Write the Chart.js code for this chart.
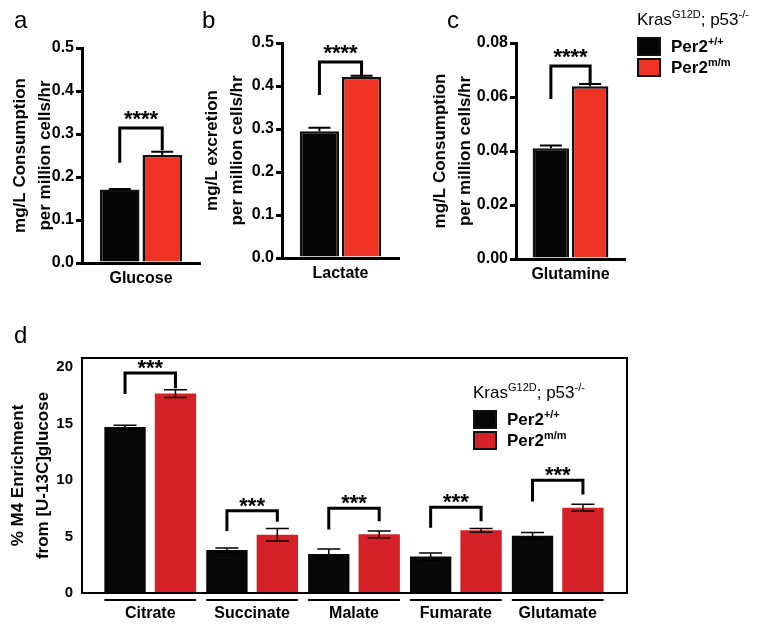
<!DOCTYPE html>
<html>
<head>
<meta charset="utf-8">
<script src="https://cdn.jsdelivr.net/npm/chart.js@4.4.1/dist/chart.umd.min.js"></script>
<style>
body { margin: 0; background: #fff; font-family: "Liberation Sans", Arial, sans-serif; }
#wrap { position: relative; width: 764px; height: 626px; overflow: hidden; }
.box { position: absolute; }
.letter { position: absolute; font-size: 24px; line-height: 24px; color: #000; z-index: 2; }
.legend { position: absolute; color: #000; z-index: 2; }
.legend .head { font-size: 17px; line-height: 17px; white-space: nowrap; margin-bottom: 6px; }
.sup { font-size: 11px; position: relative; top: -7px; }
.row { display: flex; align-items: center; height: 21px; white-space: nowrap; }
.sw { width: 20px; height: 15px; border: 2px solid #111; margin-right: 10px; }
.lab { font-weight: bold; font-size: 17px; }
</style>
</head>
<body>
<div id="wrap">
  <div class="letter" style="left:14px;top:8px">a</div>
  <div class="letter" style="left:202px;top:8px">b</div>
  <div class="letter" style="left:447px;top:8px">c</div>
  <div class="letter" style="left:14px;top:323px">d</div>

  <div class="box" id="boxA"><canvas id="chartA"></canvas></div>
  <div class="box" id="boxB"><canvas id="chartB"></canvas></div>
  <div class="box" id="boxC"><canvas id="chartC"></canvas></div>
  <div class="box" id="boxD"><canvas id="chartD"></canvas></div>

  <div class="legend" style="left:637px;top:11px">
    <div class="head">Kras<span class="sup">G12D</span>; p53<span class="sup">-/-</span></div>
    <div class="row"><div class="sw" style="background:#050505"></div><span class="lab">Per2<span class="sup">+/+</span></span></div>
    <div class="row"><div class="sw" style="background:#ee3224"></div><span class="lab">Per2<span class="sup">m/m</span></span></div>
  </div>
  <div class="legend" style="left:473px;top:384px">
    <div class="head">Kras<span class="sup">G12D</span>; p53<span class="sup">-/-</span></div>
    <div class="row"><div class="sw" style="background:#070707"></div><span class="lab">Per2<span class="sup">+/+</span></span></div>
    <div class="row"><div class="sw" style="background:#d52027"></div><span class="lab">Per2<span class="sup">m/m</span></span></div>
  </div>
</div>

<script>
// panels a-c : one category each
const rateCats = ['Glucose', 'Lactate', 'Glutamine'];
const rateTitles = [
    ['mg/L Consumption', 'per million cells/hr'],
    ['mg/L excretion', 'per million cells/hr'],
    ['mg/L Consumption', 'per million cells/hr']
];
const wtRate = [0.171, 0.295, 0.041];
const wtRateErr = [0.001, 0.008, 0.001];
const mutRate = [0.251, 0.421, 0.064];
const mutRateErr = [0.008, 0.003, 0.0008];
const rateMax = [0.5, 0.5, 0.08];
const rateStep = [0.1, 0.1, 0.02];
const rateDecimals = [1, 1, 2];
// significance bracket: top line, left leg end, right leg end
const rateBracketTop = [0.314, 0.456, 0.0715];
const rateBracketLeft = [0.233, 0.379, 0.0593];
const rateBracketRight = [0.262, 0.425, 0.065];

// panel d
const metabolites = ['Citrate', 'Succinate', 'Malate', 'Fumarate', 'Glutamate'];
const wtM4 = [14.67, 3.8, 3.45, 3.22, 5.07];
const wtM4Err = [0.17, 0.17, 0.43, 0.32, 0.29];
const mutM4 = [17.63, 5.15, 5.19, 5.54, 7.54];
const mutM4Err = [0.35, 0.55, 0.3, 0.17, 0.3];
const m4Ticks = [0, 5, 10, 15, 20];
const m4BracketTop = [19.45, 7.28, 7.5, 7.59, 9.97];
const m4BracketLeft = [17.6, 5.48, 5.62, 5.77, 8.09];
const m4BracketRight = [18.1, 6.29, 6.35, 6.35, 8.72];

Chart.defaults.font.family = '"Liberation Sans", Arial, sans-serif';
Chart.defaults.color = '#000';
Chart.defaults.animation = false;

const errorBars = {
    id: 'errorBars',
    afterDatasetsDraw(chart, args, opts) {
        const ctx = chart.ctx;
        const y = chart.scales.y;
        ctx.save();
        ctx.strokeStyle = '#000';
        ctx.lineWidth = opts.width;
        chart.data.datasets.forEach((ds, di) => {
            const meta = chart.getDatasetMeta(di);
            meta.data.forEach((bar, i) => {
                const v = meta.controller.getParsed(i).y;
                const e = ds.errors[i];
                const top = y.getPixelForValue(v + e);
                const bot = opts.both ? y.getPixelForValue(v - e) : bar.y;
                const h = opts.cap / 2;
                ctx.beginPath();
                ctx.moveTo(bar.x, bot);
                ctx.lineTo(bar.x, top);
                ctx.moveTo(bar.x - h, top);
                ctx.lineTo(bar.x + h, top);
                if (opts.both) {
                    ctx.moveTo(bar.x - h, bot);
                    ctx.lineTo(bar.x + h, bot);
                }
                ctx.stroke();
            });
        });
        ctx.restore();
    }
};

const brackets = {
    id: 'brackets',
    afterDatasetsDraw(chart, args, opts) {
        const ctx = chart.ctx;
        const y = chart.scales.y;
        const m0 = chart.getDatasetMeta(0), m1 = chart.getDatasetMeta(1);
        ctx.save();
        ctx.strokeStyle = '#000';
        ctx.lineWidth = opts.width;
        ctx.lineCap = 'butt';
        ctx.lineJoin = 'miter';
        ctx.fillStyle = '#000';
        ctx.font = 'bold ' + opts.size + 'px "Liberation Sans", Arial, sans-serif';
        ctx.textAlign = 'center';
        ctx.textBaseline = 'alphabetic';
        opts.tops.forEach((t, i) => {
            const xl = m0.data[i].x, xr = m1.data[i].x;
            const yt = y.getPixelForValue(t);
            ctx.beginPath();
            ctx.moveTo(xl, y.getPixelForValue(opts.lefts[i]));
            ctx.lineTo(xl, yt);
            ctx.lineTo(xr, yt);
            ctx.lineTo(xr, y.getPixelForValue(opts.rights[i]));
            ctx.stroke();
            ctx.fillText(opts.label, (xl + xr) / 2, yt - opts.gap + opts.size * 0.42);
        });
        ctx.restore();
    }
};

const frame = {
    id: 'frame',
    afterDraw(chart, args, opts) {
        if (!opts.on) return;
        const a = chart.chartArea, ctx = chart.ctx;
        ctx.save();
        ctx.strokeStyle = '#000';
        ctx.lineWidth = 2;
        ctx.strokeRect(a.left, a.top, a.right - a.left, a.bottom - a.top);
        // line under each group of bars
        const m0 = chart.getDatasetMeta(0), m1 = chart.getDatasetMeta(1);
        m0.data.forEach((b, i) => {
            const r = m1.data[i];
            ctx.beginPath();
            ctx.moveTo(b.x - b.width / 2, a.bottom + 7);
            ctx.lineTo(r.x + r.width / 2, a.bottom + 7);
            ctx.stroke();
        });
        ctx.restore();
    }
};

// layout of the small panels
const smallBoxes = [
    { id: 'A', left: 0, top: 25, width: 215, height: 275, yWidth: 82 },
    { id: 'B', left: 192, top: 20, width: 222, height: 275, yWidth: 90 },
    { id: 'C', left: 420, top: 20, width: 220, height: 276, yWidth: 96 }
];

function place(id, b) {
    const el = document.getElementById('box' + id);
    el.style.left = b.left + 'px';
    el.style.top = b.top + 'px';
    el.style.width = b.width + 'px';
    el.style.height = b.height + 'px';
}

smallBoxes.forEach((b, k) => {
    place(b.id, b);
    new Chart(document.getElementById('chart' + b.id), {
        type: 'bar',
        data: {
            labels: [rateCats[k]],
            datasets: [{
                label: 'Per2+/+',
                data: [wtRate[k]],
                errors: [wtRateErr[k]],
                backgroundColor: '#050505',
                borderColor: '#111',
                borderWidth: 2.5
            }, {
                label: 'Per2m/m',
                data: [mutRate[k]],
                errors: [mutRateErr[k]],
                backgroundColor: '#ee3224',
                borderColor: '#111',
                borderWidth: 2.5
            }]
        },
        options: {
            responsive: true,
            maintainAspectRatio: false,
            layout: { padding: { top: 23, right: 15, left: 0, bottom: 0 } },
            datasets: { bar: { categoryPercentage: 0.72, barPercentage: 0.93 } },
            plugins: {
                legend: { display: false },
                tooltip: { enabled: false },
                errorBars: { width: 2, cap: 22, both: false },
                brackets: {
                    tops: [rateBracketTop[k]], lefts: [rateBracketLeft[k]], rights: [rateBracketRight[k]],
                    label: '****', width: 3, size: 22, gap: 11
                },
                frame: { on: false }
            },
            scales: {
                x: {
                    grid: { display: false, drawTicks: false },
                    border: { color: '#000', width: 3 },
                    ticks: { font: { size: 16, weight: 'bold' }, padding: 6 },
                    afterFit(s) { s.height = 37; }
                },
                y: {
                    min: 0,
                    max: rateMax[k],
                    grid: { drawOnChartArea: false, drawTicks: true, tickLength: 6, lineWidth: 3, color: '#000' },
                    border: { color: '#000', width: 3 },
                    ticks: {
                        stepSize: rateStep[k],
                        font: { size: 16, weight: 'bold' },
                        padding: 2,
                        callback: v => Number(v).toFixed(rateDecimals[k])
                    },
                    title: {
                        display: true,
                        text: rateTitles[k],
                        font: { size: 17, weight: 'bold', lineHeight: 1.45 },
                        padding: { top: 8, bottom: 0 }
                    },
                    afterFit(s) { s.width = b.yWidth; }
                }
            }
        },
        plugins: [errorBars, brackets, frame]
    });
});

// panel d
place('D', { left: 0, top: 340, width: 764, height: 286 });
new Chart(document.getElementById('chartD'), {
    type: 'bar',
    data: {
        datasets: [{
            label: 'Per2+/+',
            data: metabolites.map((m, i) => ({ x: i, y: wtM4[i] })),
            errors: wtM4Err,
            backgroundColor: '#070707'
        }, {
            label: 'Per2m/m',
            data: metabolites.map((m, i) => ({ x: i, y: mutM4[i] })),
            errors: mutM4Err,
            backgroundColor: '#d52027'
        }]
    },
    options: {
        responsive: true,
        maintainAspectRatio: false,
        layout: { padding: { top: 14, right: 137, left: 0, bottom: 0 } },
        datasets: { bar: { categoryPercentage: 0.99, barPercentage: 0.82 } },
        plugins: {
            legend: { display: false },
            tooltip: { enabled: false },
            errorBars: { width: 1.5, cap: 23, both: true },
            brackets: {
                tops: m4BracketTop, lefts: m4BracketLeft, rights: m4BracketRight,
                label: '***', width: 3, size: 22, gap: 7
            },
            frame: { on: true }
        },
        scales: {
            x: {
                type: 'linear',
                offset: false,
                min: -0.67,
                max: 4.68,
                grid: { display: false, drawTicks: false, offset: false },
                border: { display: false },
                afterBuildTicks(s) { s.ticks = metabolites.map((m, i) => ({ value: i })); },
                ticks: {
                    font: { size: 16, weight: 'bold' },
                    padding: 11,
                    autoSkip: false,
                    maxRotation: 0,
                    callback: v => metabolites[v]
                },
                afterFit(s) { s.height = 33; }
            },
            y: {
                min: 0,
                max: 20.78,
                grid: { display: false, drawTicks: false },
                border: { display: false },
                afterBuildTicks(s) { s.ticks = m4Ticks.map(v => ({ value: v })); },
                ticks: { font: { size: 15, weight: 'bold' }, padding: 9 },
                title: {
                    display: true,
                    text: ['% M4 Enrichment', 'from [U-13C]glucose'],
                    font: { size: 17, weight: 'bold', lineHeight: 1.45 },
                    padding: { top: 6, bottom: 0 }
                },
                afterFit(s) { s.width = 82; }
            }
        }
    },
    plugins: [errorBars, brackets, frame]
});
</script>
</body>
</html>
